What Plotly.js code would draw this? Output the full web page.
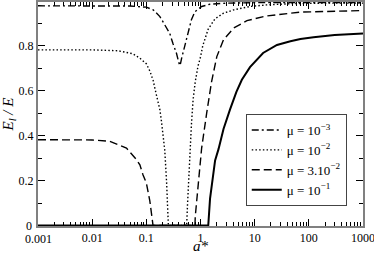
<!DOCTYPE html>
<html>
<head>
<meta charset="utf-8">
<script src="https://cdn.plot.ly/plotly-3.0.1.min.js"></script>
<style>html,body{margin:0;padding:0;background:#fff;}#chart{width:374px;height:254px;}</style>
</head>
<body>
<div id="chart"></div>
<script>
// Series data (a* on log scale, El/E)
const names = ['μ = 10<sup>−3</sup>', 'μ = 10<sup>−2</sup>', 'μ = 3.10<sup>−2</sup>', 'μ = 10<sup>−1</sup>'];

const x1 = [0.001, 0.01, 0.05, 0.1, 0.134, 0.178, 0.219, 0.27, 0.31, 0.36, 0.40, 0.42, 0.449, 0.51, 0.59, 0.68, 0.79, 1.05, 1.49, 3, 10, 100, 1000];
const y1 = [0.978, 0.978, 0.977, 0.972, 0.96, 0.93, 0.893, 0.856, 0.81, 0.767, 0.723, 0.712, 0.745, 0.797, 0.856, 0.916, 0.952, 0.975, 0.985, 0.99, 0.992, 0.993, 0.993];

const x2 = [0.001, 0.01, 0.03, 0.056, 0.076, 0.1, 0.116, 0.134, 0.144, 0.163, 0.178, 0.19, 0.203, 0.219, 0.237, 0.245, 0.255, 0.4, 0.555, 0.575, 0.6, 0.63, 0.68, 0.73, 0.8, 0.9, 1.0, 1.1, 1.39, 1.85, 2.66, 4.1, 8.2, 16.6, 51, 200, 1000];
const y2 = [0.782, 0.782, 0.778, 0.765, 0.745, 0.72, 0.688, 0.645, 0.61, 0.56, 0.515, 0.465, 0.40, 0.335, 0.19, 0.11, 0.0, 0.0, 0.0, 0.09, 0.19, 0.32, 0.45, 0.56, 0.64, 0.71, 0.75, 0.80, 0.875, 0.92, 0.945, 0.96, 0.975, 0.982, 0.988, 0.99, 0.99];

const x3 = [0.001, 0.01, 0.021, 0.043, 0.066, 0.076, 0.087, 0.1, 0.116, 0.125, 0.133, 0.4, 0.79, 0.8, 0.85, 0.95, 1.0, 1.05, 1.3, 1.6, 2.0, 2.66, 4.1, 7.2, 16.6, 39, 70, 1000];
const y3 = [0.382, 0.381, 0.375, 0.345, 0.293, 0.27, 0.225, 0.19, 0.11, 0.057, 0.0, 0.0, 0.0, 0.04, 0.115, 0.25, 0.323, 0.345, 0.50, 0.64, 0.752, 0.827, 0.879, 0.912, 0.933, 0.945, 0.95, 0.957];

const x4 = [0.001, 0.1, 1.39, 1.5, 1.6, 1.86, 2.15, 2.66, 3.5, 4.6, 5.8, 8.2, 14.3, 25.8, 45.7, 70, 122, 300, 1000];
const y4 = [0.0, 0.0, 0.0, 0.12, 0.17, 0.29, 0.34, 0.43, 0.516, 0.595, 0.649, 0.705, 0.768, 0.804, 0.82, 0.83, 0.838, 0.848, 0.855];

const xTickVals = [0.001, 0.01, 0.1, 1, 10, 100, 1000];
const xTickText = ['0.001', '0.01', '0.1', '1', '10', '100', '1000'];
const yTickVals = [0, 0.2, 0.4, 0.6, 0.8];
const yTickText = ['0', '0.2', '0.4', '0.6', '0.8'];
const yMinorVals = [0.1, 0.3, 0.5, 0.7, 0.9];

const minorX = [];
for (let e = -3; e < 3; e++) for (let m = 2; m <= 9; m++) minorX.push(m * Math.pow(10, e));

const serif = 'Liberation Serif';
const traces = [
  {x: x1, y: y1, name: names[0], mode: 'lines', line: {color: '#000', width: 1.4, dash: '7px,3px,2px,3px'}},
  {x: x2, y: y2, name: names[1], mode: 'lines', line: {color: '#000', width: 1.4, dash: '1.5px,2.2px'}},
  {x: x3, y: y3, name: names[2], mode: 'lines', line: {color: '#000', width: 1.4, dash: '8px,4px'}},
  {x: x4, y: y4, name: names[3], mode: 'lines', line: {color: '#000', width: 2}}
];

// The two corner tick labels ("0" and "0.001") collide, and Plotly drops/shifts one of them,
// so both are drawn as annotations at their own tick positions.
const yTickTextShown = yTickText.map((t, i) => i === 0 ? '' : t);
const xTickTextShown = xTickText.map((t, i) => i === 0 ? '' : t);

const layout = {
  width: 374, height: 254,
  margin: {l: 38, r: 11, t: 2, b: 28, pad: 0},
  paper_bgcolor: '#fff', plot_bgcolor: '#fff',
  font: {family: serif, color: '#000', size: 12},
  showlegend: true,
  legend: {x: 0.95, y: 0.5, xanchor: 'right', yanchor: 'top', bgcolor: '#fff', itemwidth: 30,
           bordercolor: '#444', borderwidth: 1, font: {family: serif, size: 13, color: '#000'}},
  annotations: [
    {text: yTickText[0], xref: 'paper', x: 0, xanchor: 'right', xshift: -4,
     yref: 'y', y: yTickVals[0], yanchor: 'middle', showarrow: false,
     font: {family: serif, size: 12, color: '#000'}},
    {text: xTickText[0], xref: 'paper', x: 0, xanchor: 'center',
     yref: 'paper', y: 0, yanchor: 'top', yshift: -4, showarrow: false,
     font: {family: serif, size: 12, color: '#000'}}
  ],
  xaxis: {
    type: 'log', range: [-3, 3], tickmode: 'array', tickvals: xTickVals, ticktext: xTickTextShown,
    ticks: 'inside', ticklen: 7, tickwidth: 1, tickcolor: '#000', ticklabeloverflow: 'allow',
    minor: {tickmode: 'array', tickvals: minorX, ticks: 'inside', ticklen: 4, tickwidth: 1, tickcolor: '#000', showgrid: false},
    showline: true, linecolor: '#808080', linewidth: 2, mirror: 'allticks',
    showgrid: false, zeroline: false,
    tickfont: {family: serif, size: 12, color: '#000'},
    title: {text: '<i>a*</i>', font: {family: serif, size: 15, color: '#000'}, standoff: 2}
  },
  yaxis: {
    range: [-0.002, 0.995], tickmode: 'array', tickvals: yTickVals, ticktext: yTickTextShown,
    ticks: 'inside', ticklen: 7, tickwidth: 1, tickcolor: '#000', ticklabeloverflow: 'allow',
    minor: {tickmode: 'array', tickvals: yMinorVals, ticks: 'inside', ticklen: 4, tickwidth: 1, tickcolor: '#000', showgrid: false},
    showline: true, linecolor: '#808080', linewidth: 2, mirror: 'allticks',
    showgrid: false, zeroline: false,
    tickfont: {family: serif, size: 12, color: '#000'},
    title: {text: '<i>E<sub>l</sub> / E</i>', font: {family: serif, size: 15, color: '#000'}, standoff: 4}
  }
};

Plotly.newPlot('chart', traces, layout, {displayModeBar: false, staticPlot: true});
</script>
</body>
</html>
